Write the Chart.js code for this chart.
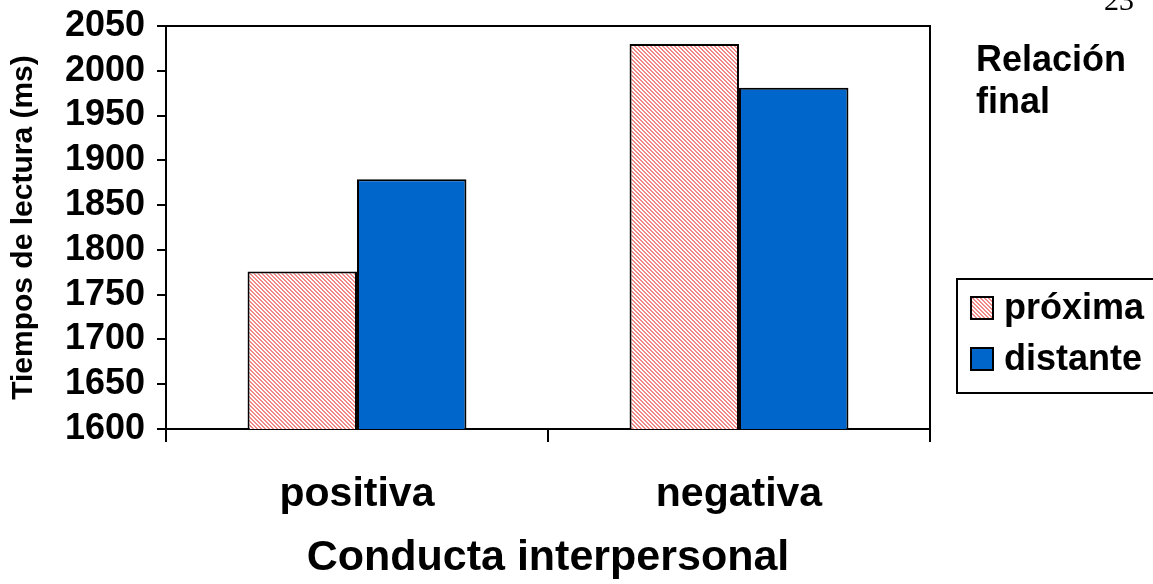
<!DOCTYPE html>
<html>
<head>
<meta charset="utf-8">
<script src="https://cdn.jsdelivr.net/npm/chart.js@4"></script>
<style>
    body { margin: 0; background: #fff; }
    #wrap { position: relative; width: 1153px; height: 584px; overflow: hidden; font-family: "Liberation Sans", Arial, sans-serif; }
    #page { position: absolute; left: 1104px; top: -17px; font-family: "Liberation Serif", serif; font-size: 30px; }
    #note { position: absolute; left: 976px; top: 38px; font-weight: bold; font-size: 36px; line-height: 42px; }
    #legend { position: absolute; left: 956px; top: 278px; width: 210px; height: 116px; border: 2px solid #000; box-sizing: border-box; }
    .row { position: absolute; left: 12px; font-weight: bold; font-size: 36px; line-height: 40px; white-space: nowrap; }
    .sw { display: inline-block; width: 20px; height: 20px; border: 2px solid #000; margin-right: 10px; vertical-align: -1px; }
</style>
</head>
<body>
<div id="wrap">
    <canvas id="c" width="1153" height="584"></canvas>
    <div id="page">23</div>
    <div id="note">Relación<br>final</div>
    <div id="legend">
        <div class="row" style="top:7px"><span class="sw" id="sw1"></span>próxima</div>
        <div class="row" style="top:58px"><span class="sw" style="background:#0066cc"></span>distante</div>
    </div>
</div>
<script>
const categories = ["positiva", "negativa"];
const seriesNames = ["próxima", "distante"];
const proximaValues = [1776, 2030];
const distanteValues = [1879, 1981];
const yTicks = [1600, 1650, 1700, 1750, 1800, 1850, 1900, 1950, 2000, 2050];

// pink hatched fill
function hatch() {
    const p = document.createElement("canvas");
    p.width = 4; p.height = 4;
    const g = p.getContext("2d");
    g.fillStyle = "#ffffff";
    g.fillRect(0, 0, 4, 4);
    g.fillStyle = "#f28a8a";
    for (let i = 0; i < 4; i++) {
        g.fillRect(i, i, 1, 1);
        g.fillRect((i + 1) % 4, i, 1, 1);
    }
    return p;
}
const hatchCanvas = hatch();
document.getElementById("sw1").style.background = "url(" + hatchCanvas.toDataURL() + ")";

const ctx = document.getElementById("c").getContext("2d");
const pink = ctx.createPattern(hatchCanvas, "repeat");

const frame = {
    id: "frame",
    afterDatasetsDraw(chart) {
        const a = chart.chartArea;
        const g = chart.ctx;
        g.save();
        g.strokeStyle = "#000";
        g.lineWidth = 2;
        g.beginPath();
        g.moveTo(a.left, a.top);
        g.lineTo(a.right, a.top);
        g.lineTo(a.right, a.bottom);
        g.stroke();
        g.restore();
    }
};

const font = "'Liberation Sans', Arial, sans-serif";

new Chart(ctx, {
    type: "bar",
    data: {
        labels: categories,
        datasets: [
            { label: seriesNames[0], data: proximaValues, backgroundColor: pink, borderColor: "#000", borderWidth: 2, borderSkipped: "bottom" },
            { label: seriesNames[1], data: distanteValues, backgroundColor: "#0066cc", borderColor: "#000", borderWidth: 2, borderSkipped: "bottom" }
        ]
    },
    options: {
        responsive: false,
        animation: false,
        layout: { padding: { left: 0, top: 26, right: 223, bottom: 0 } },
        datasets: { bar: { categoryPercentage: 0.573, barPercentage: 1 } },
        plugins: { legend: { display: false }, tooltip: { enabled: false } },
        scales: {
            x: {
                afterFit(s) { s.height = 155; },
                grid: { offset: true, drawOnChartArea: false, drawTicks: true, tickLength: 13, color: "#000", lineWidth: 2 },
                border: { color: "#000", width: 2 },
                ticks: { color: "#000", padding: 28, font: { family: font, size: 41, weight: "bold" } },
                title: { display: true, text: "Conducta interpersonal", color: "#000", padding: { top: 10, bottom: 0 }, font: { family: font, size: 43, weight: "bold" } }
            },
            y: {
                min: 1600,
                max: 2050,
                afterFit(s) { s.width = 166; s.paddingTop = 0; s.paddingBottom = 0; },
                afterBuildTicks(s) { s.ticks = yTicks.map(v => ({ value: v })); },
                grid: { drawOnChartArea: false, drawTicks: true, tickLength: 9, color: "#000", lineWidth: 2 },
                border: { color: "#000", width: 2 },
                ticks: { color: "#000", padding: 12, autoSkip: false, callback: v => String(v), font: { family: font, size: 36, weight: "bold" } },
                title: { display: true, text: "Tiempos de lectura (ms)", color: "#000", padding: { top: 6, bottom: 0 }, font: { family: font, size: 30, weight: "bold" } }
            }
        }
    },
    plugins: [frame]
});
</script>
</body>
</html>
